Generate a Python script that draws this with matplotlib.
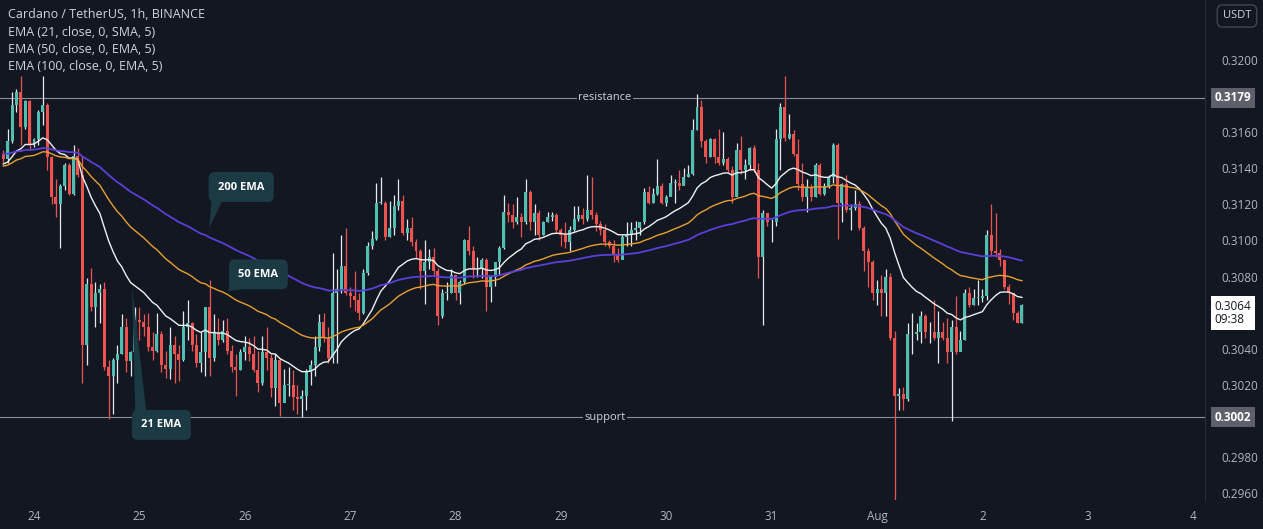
import numpy as np
import matplotlib.pyplot as plt
import matplotlib.transforms as mtransforms
from matplotlib.patches import Polygon

plt.rcParams['font.family'] = ['Open Sans', 'DejaVu Sans']

#----- Datos (ADA/USDT 1h, velas desde el 23 a las 17:00) -----

hora_inicio = -7          # horas respecto al dia 24 00:00
apertura_inicial = 0.3148

cierres = [
    .3145, .3155, .3175, .3182, .3163, .3177, .3153, .3156, .3171, .3175,
    .3146, .3124, .3120, .3130, .3142, .3126, .3147, .3136, .3042, .3076,
    .3063, .3071, .3073, .3030, .3025, .3034, .3037, .3052, .3033, .3038,
    .3056, .3055, .3052, .3041, .3039, .3048, .3031, .3029, .3042, .3037,
    .3034, .3052, .3054, .3042, .3032, .3038, .3063, .3035, .3049, .3045,
    .3050, .3039, .3030, .3028, .3038, .3041, .3037, .3028, .3021, .3038,
    .3035, .3018, .3034, .3010, .3020, .3020, .3013, .3012, .3014, .3027,
    .3031, .3041, .3055, .3046, .3035, .3071, .3073, .3086, .3071, .3069,
    .3067, .3060, .3082, .3097, .3101, .3121, .3121, .3102, .3107, .3119,
    .3122, .3104, .3107, .3099, .3094, .3083, .3088, .3091, .3083, .3058,
    .3071, .3071, .3081, .3071, .3077, .3100, .3094, .3084, .3084, .3089,
    .3074, .3080, .3088, .3096, .3116, .3114, .3110, .3113, .3110, .3127,
    .3110, .3115, .3103, .3110, .3113, .3114, .3106, .3103, .3099, .3106,
    .3112, .3114, .3112, .3117, .3114, .3109, .3106, .3099, .3097, .3092,
    .3089, .3102, .3103, .3106, .3107, .3110, .3127, .3121, .3126, .3130,
    .3121, .3124, .3132, .3132, .3130, .3135, .3137, .3161, .3174, .3155,
    .3146, .3156, .3146, .3143, .3145, .3139, .3124, .3150, .3139, .3142,
    .3151, .3139, .3091, .3115, .3110, .3110, .3156, .3174, .3157, .3159,
    .3148, .3131, .3124, .3129, .3124, .3142, .3126, .3130, .3135, .3153,
    .3121, .3131, .3117, .3118, .3120, .3107, .3094, .3088, .3071, .3073,
    .3071, .3080, .3046, .3014, .3015, .3012, .3048, .3048, .3049, .3058,
    .3049, .3049, .3046, .3049, .3046, .3038, .3052, .3038, .3045, .3071,
    .3064, .3068, .3068, .3069, .3103, .3094, .3093, .3089, .3074, .3071,
    .3060, .3054, .3064,
]

maximos = [
    .3150, .3162, .3182, .3184, .3191, .3178, .3178, .3157, .3172, .3191,
    .3176, .3147, .3134, .3131, .3143, .3143, .3153, .3151, .3147, .3079,
    .3085, .3077, .3076, .3077, .3034, .3035, .3042, .3059, .3057, .3039,
    .3063, .3063, .3059, .3060, .3049, .3060, .3050, .3039, .3052, .3047,
    .3042, .3061, .3067, .3055, .3048, .3049, .3063, .3078, .3059, .3057,
    .3056, .3057, .3042, .3037, .3040, .3047, .3046, .3047, .3039, .3047,
    .3052, .3037, .3037, .3035, .3029, .3030, .3028, .3020, .3017, .3029,
    .3034, .3047, .3059, .3060, .3052, .3093, .3084, .3103, .3107, .3074,
    .3083, .3071, .3084, .3099, .3105, .3132, .3135, .3122, .3122, .3125,
    .3134, .3125, .3112, .3113, .3101, .3095, .3100, .3095, .3096, .3085,
    .3073, .3077, .3084, .3081, .3078, .3101, .3108, .3097, .3091, .3090,
    .3090, .3081, .3088, .3097, .3125, .3121, .3120, .3124, .3115, .3134,
    .3128, .3120, .3117, .3111, .3116, .3116, .3115, .3107, .3110, .3108,
    .3119, .3119, .3118, .3136, .3135, .3116, .3111, .3109, .3100, .3100,
    .3096, .3103, .3110, .3110, .3111, .3110, .3129, .3130, .3129, .3145,
    .3132, .3125, .3136, .3134, .3139, .3140, .3142, .3167, .3181, .3178,
    .3156, .3157, .3157, .3162, .3160, .3146, .3141, .3154, .3158, .3145,
    .3152, .3153, .3143, .3117, .3114, .3112, .3162, .3176, .3191, .3170,
    .3161, .3156, .3143, .3134, .3131, .3143, .3143, .3132, .3136, .3154,
    .3154, .3132, .3136, .3120, .3128, .3122, .3108, .3096, .3089, .3078,
    .3081, .3084, .3082, .3050, .3018, .3019, .3054, .3060, .3054, .3061,
    .3059, .3055, .3067, .3061, .3055, .3057, .3056, .3069, .3050, .3073,
    .3074, .3073, .3078, .3073, .3106, .3120, .3115, .3095, .3088, .3076,
    .3071, .3061, .3065,
]

minimos = [
    .3143, .3143, .3154, .3171, .3153, .3162, .3150, .3152, .3153, .3164,
    .3139, .3120, .3113, .3096, .3128, .3125, .3125, .3135, .3021, .3031,
    .3061, .3052, .3054, .3028, .3001, .3004, .3021, .3037, .3027, .3025,
    .3037, .3045, .3047, .3039, .3034, .3038, .3027, .3024, .3023, .3021,
    .3022, .3033, .3045, .3039, .3030, .3027, .3025, .3025, .3033, .3042,
    .3044, .3037, .3027, .3014, .3028, .3034, .3033, .3027, .3016, .3020,
    .3028, .3013, .3008, .3003, .3012, .3014, .3006, .3004, .3002, .3006,
    .3020, .3025, .3039, .3044, .3032, .3032, .3032, .3071, .3070, .3063,
    .3061, .3056, .3059, .3081, .3095, .3100, .3120, .3100, .3102, .3103,
    .3117, .3103, .3100, .3097, .3090, .3073, .3065, .3084, .3081, .3053,
    .3057, .3067, .3071, .3067, .3065, .3076, .3092, .3079, .3080, .3079,
    .3061, .3066, .3075, .3081, .3095, .3110, .3107, .3109, .3102, .3109,
    .3106, .3103, .3100, .3103, .3110, .3111, .3104, .3097, .3096, .3094,
    .3105, .3111, .3109, .3111, .3112, .3105, .3103, .3097, .3096, .3088,
    .3088, .3090, .3097, .3097, .3100, .3103, .3109, .3120, .3121, .3125,
    .3120, .3119, .3125, .3121, .3128, .3131, .3135, .3136, .3161, .3152,
    .3143, .3146, .3143, .3142, .3142, .3138, .3121, .3125, .3137, .3134,
    .3139, .3138, .3079, .3053, .3108, .3099, .3108, .3139, .3155, .3156,
    .3147, .3128, .3122, .3116, .3122, .3124, .3125, .3125, .3129, .3132,
    .3101, .3110, .3116, .3106, .3117, .3106, .3083, .3074, .3067, .3064,
    .3058, .3058, .3045, .2956, .3006, .3006, .3011, .3037, .3045, .3043,
    .3046, .3043, .3045, .3032, .3045, .3032, .3000, .3037, .3042, .3045,
    .3063, .3064, .3064, .3066, .3067, .3092, .3091, .3086, .3073, .3065,
    .3056, .3054, .3054,
]

# valores de las EMA justo antes de la primera vela
ema_periodos = [21, 50, 100]
ema_inicio = [0.3142, 0.3141, 0.3148]
ema_colores = ['#f0f0f0', '#e8a030', '#5a3fd8']

soporte = 0.3002
resistencia = 0.3179
precio_actual = 0.3064
cuenta_atras = '09:38'

dias = ['24', '25', '26', '27', '28', '29', '30', '31', 'Aug', '2', '3', '4']
precios_eje = [0.2960, 0.2980, 0.3020, 0.3040, 0.3080,
               0.3100, 0.3120, 0.3140, 0.3160, 0.3200]


#----- Funciones -----

def calcular_ema(valores, periodo, inicio):
    alfa = 2 / (periodo + 1)
    e = inicio
    salida = []
    for v in valores:
        e = alfa * v + (1 - alfa) * e
        salida.append(e)
    return np.array(salida)


#----- Grafica -----

fondo = '#131722'
texto = '#b2b5be'
verde = '#4fbfb2'
rojo = '#ef5350'

fig = plt.figure(figsize=(12.63, 5.29), dpi=100)
fig.patch.set_facecolor(fondo)
ax = fig.add_axes([0, 29 / 529, 1205 / 1263, 500 / 529])
ax.set_facecolor(fondo)

c = np.array(cierres)
h = np.array(maximos)
l = np.array(minimos)
o = np.concatenate([[apertura_inicial], c[:-1]])
x = np.arange(len(c)) + hora_inicio
sube = c >= o

ax.vlines(x[sube], l[sube], h[sube], color='#e6e8ec', lw=0.9, zorder=2)
ax.vlines(x[~sube], l[~sube], h[~sube], color=rojo, lw=0.9, zorder=2)
altura = np.maximum(np.abs(c - o), 0.00004)
ax.bar(x, altura, bottom=np.minimum(o, c), width=0.68,
       color=np.where(sube, verde, rojo), linewidth=0, zorder=3)

for periodo, inicio, color in zip(ema_periodos, ema_inicio, ema_colores):
    ax.plot(x, calcular_ema(c, periodo, inicio), color=color,
            lw=1.3 if periodo == 100 else 1.0, zorder=4)

# soporte / resistencia
for nivel, nombre in [(resistencia, 'resistance'), (soporte, 'support')]:
    ax.axhline(nivel, color='#8a8e99', lw=0.8, zorder=1)
    ax.text(130, nivel, nombre, ha='center', va='center', color='#d1d4dc',
            fontsize=8, zorder=5,
            bbox=dict(boxstyle='square,pad=0.15', fc=fondo, ec='none'))

# globos de texto: etiqueta, centro de la caja, punta y base de la cola (hora, precio)
caja = '#1c3a44'
globos = [
    ('200 EMA', (47.2, 0.31296), [(39.9, 0.31069), (40.5, 0.31240), (43.3, 0.31240)]),
    ('50 EMA', (51.1, 0.30812), [(44.2, 0.30720), (44.8, 0.30800), (47.0, 0.30726)]),
    ('21 EMA', (29.0, 0.29978), [(22.3, 0.30748), (23.1, 0.30020), (25.6, 0.30045)]),
]
for etiqueta, centro, cola in globos:
    ax.add_patch(Polygon(cola, closed=True, fc=caja, ec='none', zorder=6))
    ax.text(centro[0], centro[1], etiqueta, ha='center', va='center',
            color='white', fontsize=8, fontweight='bold', zorder=7,
            bbox=dict(boxstyle='round,pad=0.85,rounding_size=0.55', fc=caja, ec='none'))

ax.set_xlim(-7.745, 266.7)
ax.set_ylim(0.29562, 0.32332)

ax.set_xticks(np.arange(len(dias)) * 24, dias)
ax.set_yticks(precios_eje, [f'{p:.4f}' for p in precios_eje])
ax.yaxis.tick_right()
ax.tick_params(axis='both', length=0, colors=texto, labelsize=8.5)
ax.tick_params(axis='y', pad=12)
ax.tick_params(axis='x', pad=7)
for lado in ['top', 'left', 'bottom']:
    ax.spines[lado].set_visible(False)
ax.spines['right'].set_color('#2a2e39')

# etiquetas de precio del eje
tr = mtransforms.blended_transform_factory(ax.transAxes, ax.transData)
for nivel in [resistencia, soporte]:
    ax.text(1.008, nivel, f'{nivel:.4f}', transform=tr, ha='left', va='center',
            color='white', fontsize=8.5, fontweight='bold', zorder=7, clip_on=False,
            bbox=dict(boxstyle='square,pad=0.3', fc='#5d606b', ec='none'))
ax.text(1.008, precio_actual + 0.00030, f'{precio_actual:.4f}\n{cuenta_atras}', transform=tr,
        ha='left', va='top', color='#131722', fontsize=8.5, linespacing=1.0, zorder=7,
        clip_on=False, bbox=dict(boxstyle='square,pad=0.3', fc='white', ec='none'))

# cabecera
fig.text(8 / 1263, 1 - 15 / 529, 'Cardano / TetherUS, 1h, BINANCE', color='#d1d4dc',
         fontsize=9, va='center')
for i, periodo in enumerate(['21, close, 0, SMA, 5', '50, close, 0, EMA, 5', '100, close, 0, EMA, 5']):
    fig.text(8 / 1263, 1 - (33 + 16.5 * i) / 529, f'EMA ({periodo})', color='#d1d4dc',
             fontsize=9, va='center')
fig.text(1237 / 1263, 1 - 16 / 529, 'USDT', color='#d1d4dc', fontsize=8, ha='center',
         va='center', bbox=dict(boxstyle='round,pad=0.5', fc=fondo, ec='#434651'))

plt.savefig('out.png', dpi=100, facecolor=fondo)
